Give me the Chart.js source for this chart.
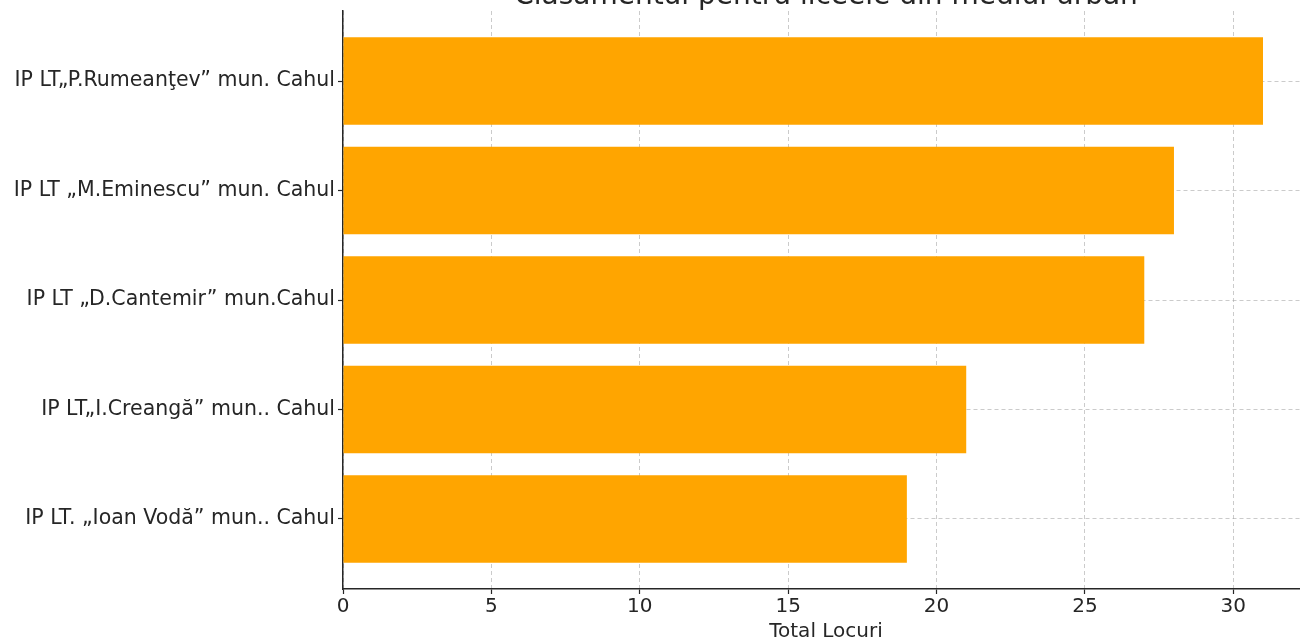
<!DOCTYPE html>
<html>
<head>
<meta charset="utf-8">
<script src="https://cdn.jsdelivr.net/npm/chart.js@4"></script>
<style>
  html, body { margin: 0; padding: 0; overflow: hidden; background: #fff; }
  #wrap { width: 1310px; height: 644px; }
</style>
</head>
<body>
<div id="wrap"><canvas id="rankChart"></canvas></div>
<script>
// data
const schools = [
    'IP LT\u201EP.Rumean\u0163ev\u201D mun. Cahul',
    'IP LT \u201EM.Eminescu\u201D mun. Cahul',
    'IP LT \u201ED.Cantemir\u201D mun.Cahul',
    'IP LT\u201EI.Creang\u0103\u201D mun.. Cahul',
    'IP LT. \u201EIoan Vod\u0103\u201D mun.. Cahul'
];
const totalLocuri = [31, 28, 27, 21, 19];
const xTicks = [0, 5, 10, 15, 20, 25, 30];
const chartTitle = 'Clasamentul pentru liceele din mediul urban';
const xTitle = 'Total Locuri';

const FONT = "'DejaVu Sans', sans-serif";
const TEXT = '#262626';
const GRID = 'rgba(160,160,160,0.55)';

// title sits above the plot and is mostly cut off at the top edge
const titlePlugin = {
    id: 'topTitle',
    afterDraw(chart) {
        const ctx = chart.ctx;
        const area = chart.chartArea;
        ctx.save();
        ctx.font = '28px ' + FONT;
        ctx.fillStyle = TEXT;
        ctx.textAlign = 'center';
        ctx.textBaseline = 'alphabetic';
        ctx.fillText(chartTitle, (area.left + area.right) / 2, 4);
        ctx.restore();
    }
};

const ctx = document.getElementById('rankChart').getContext('2d');
new Chart(ctx, {
    type: 'bar',
    data: {
        datasets: [{
            data: totalLocuri.map((v, i) => ({ x: v, y: i })),
            backgroundColor: '#FFA500',
            borderWidth: 0,
            categoryPercentage: 1,
            barPercentage: 0.8
        }]
    },
    options: {
        indexAxis: 'y',
        responsive: true,
        maintainAspectRatio: false,
        animation: false,
        events: [],
        layout: { padding: { top: 11, right: 1, left: 0, bottom: 0 } },
        plugins: {
            legend: { display: false },
            tooltip: { enabled: false }
        },
        scales: {
            x: {
                type: 'linear',
                min: 0,
                max: 32.55,
                z: 1,
                afterBuildTicks: s => { s.ticks = xTicks.map(v => ({ value: v })); },
                afterFit: s => { s.height = 55; s.paddingRight = 0; },
                grid: { color: GRID, lineWidth: 1, tickLength: 5, tickColor: TEXT, tickWidth: 1.2 },
                border: { display: true, color: TEXT, width: 1.5, dash: [4, 3] },
                ticks: { color: TEXT, font: { family: FONT, size: 20 }, padding: 1 },
                title: { display: true, text: xTitle, color: TEXT, font: { family: FONT, size: 20 }, padding: { top: 0, bottom: 0 } }
            },
            y: {
                type: 'linear',
                min: -0.64,
                max: 4.64,
                reverse: true,
                offset: false,
                z: 1,
                afterBuildTicks: s => { s.ticks = schools.map((_, i) => ({ value: i })); },
                afterFit: s => { s.width = 343; s.paddingTop = 0; s.paddingBottom = 0; },
                grid: { offset: false, color: GRID, lineWidth: 1, tickLength: 5, tickColor: TEXT, tickWidth: 1.2 },
                border: { display: true, color: TEXT, width: 1.5, dash: [4, 3] },
                ticks: {
                    color: TEXT,
                    font: { family: FONT, size: 20.5 },
                    padding: 3,
                    callback: v => schools[v]
                }
            }
        }
    },
    plugins: [titlePlugin]
});
</script>
</body>
</html>
